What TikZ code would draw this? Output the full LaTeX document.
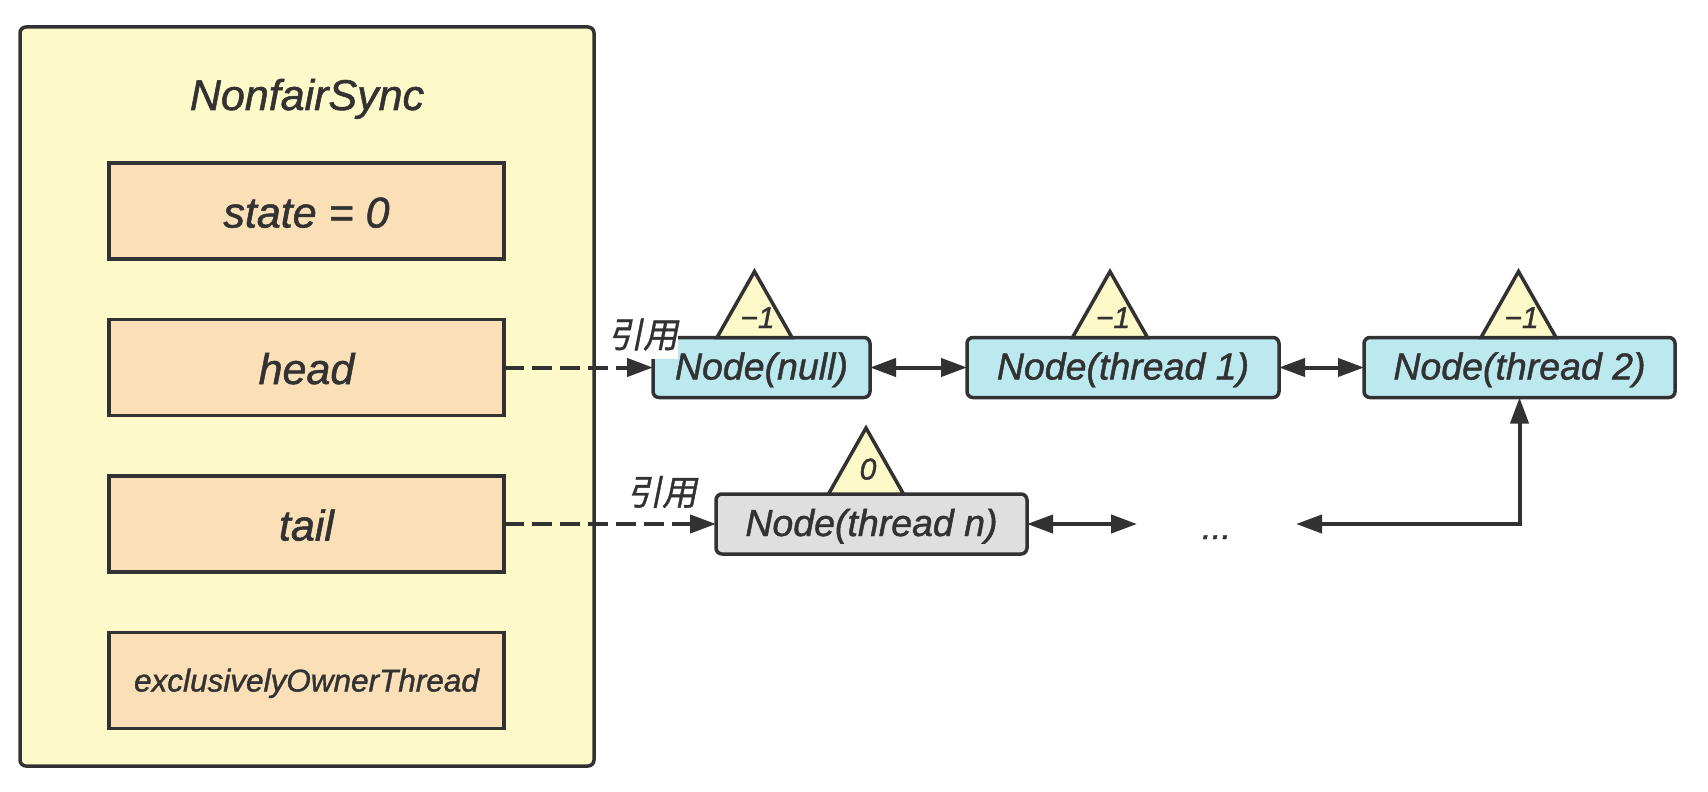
\documentclass[tikz,border=0pt]{standalone}
\usepackage{fontspec}
\setmainfont[ItalicFeatures={FakeBold=1.2}]{Liberation Sans}
\newfontfamily\cjkfont[FakeSlant=0.2, FakeBold=1]{Noto Sans CJK SC}
\usepackage{xcolor}
\usetikzlibrary{shapes.geometric, arrows.meta, positioning}
\definecolor{inkgray}{HTML}{323232}
\definecolor{syncyellow}{HTML}{FEF9C8}
\definecolor{fieldorange}{HTML}{FADFB7}
\definecolor{nodeblue}{HTML}{BCE8F0}
\definecolor{nodegray}{HTML}{DFDFDF}

\begin{document}
\begin{tikzpicture}[
  x=1pt, y=-1pt,
  every node/.style={text=inkgray, outer sep=0pt, font=\itshape},
  syncbox/.style={rectangle, rounded corners=6pt, draw=inkgray, line width=3.5pt,
                  fill=syncyellow, minimum width=574pt, minimum height=739pt},
  fieldbox/.style={rectangle, draw=inkgray, line width=3.5pt, fill=fieldorange,
                   minimum width=395pt, minimum height=96pt, inner sep=0pt,
                   text height=33pt, text depth=0pt,
                   font=\itshape\fontsize{43}{50}\selectfont},
  listbox/.style={rectangle, rounded corners=6pt, draw=inkgray, line width=3.5pt,
                  fill=nodeblue, minimum height=60pt, inner sep=0pt,
                  text height=24pt, text depth=0pt,
                  font=\itshape\fontsize{37.5}{44}\selectfont},
  countmark/.style={isosceles triangle, isosceles triangle stretches=true,
               shape border rotate=90, draw=inkgray, line width=3.5pt, fill=syncyellow,
               minimum width=75pt, minimum height=66pt, inner sep=0pt},
  marktext/.style={font=\itshape\fontsize{30}{36}\selectfont, inner sep=0pt},
  reftext/.style={fill=white, inner sep=0pt, minimum height=48pt,
                  font=\cjkfont\fontsize{35}{42}\selectfont},
  arrow/.style={{Triangle[length=26pt, width=18pt]}-{Triangle[length=26pt, width=18pt]},
                line width=4pt, inkgray},
  refarrow/.style={-{Triangle[length=26pt, width=18pt]}, line width=4pt, inkgray,
                   dash pattern=on 20pt off 8pt}
]
\useasboundingbox (0,0) rectangle (1708,792);

\node[syncbox] (sync) at (307,396.5) {};
\node[text height=28pt, text depth=0pt, font=\itshape\fontsize{43}{50}\selectfont] (syncTitle)
  at ([yshift=-69pt]sync.north) {NonfairSync};

\node[fieldbox] (state) at (306.5,211) {state = 0};
\node[fieldbox, below=60.5pt of state] (head) {head};
\node[fieldbox, below=60.5pt of head] (tail) {tail};
\node[fieldbox, below=60.5pt of tail, text height=22pt, font=\itshape\fontsize{31.5}{38}\selectfont] (owner)
  {exclusivelyOwnerThread};

\node[listbox, minimum width=217pt, right=149pt of head] (nodeNull) {Node(null)};
\node[listbox, minimum width=312pt, right=97pt of nodeNull] (nodeOne) {Node(thread 1)};
\node[listbox, minimum width=311pt, right=85pt of nodeOne] (nodeTwo) {Node(thread 2)};
\node[listbox, minimum width=311pt, right=212pt of tail, fill=nodegray] (nodeN) {Node(thread n)};
\node[right=110pt of nodeN, minimum width=159pt, inner sep=0pt, text height=30pt, text depth=0pt,
      font=\itshape\fontsize{35}{42}\selectfont] (dots) {...};

\node[countmark, above=0pt of nodeNull, xshift=-7pt,
      label={[marktext, xshift=3pt, yshift=-2pt]center:−1}] (markNull) {};
\node[countmark, above=0pt of nodeOne, xshift=-13pt,
      label={[marktext, xshift=3pt, yshift=-2pt]center:−1}] (markOne) {};
\node[countmark, above=0pt of nodeTwo, xshift=-1pt,
      label={[marktext, xshift=3pt, yshift=-2pt]center:−1}] (markTwo) {};
\node[countmark, above=0pt of nodeN, xshift=-5.5pt,
      label={[marktext, xshift=2pt, yshift=3pt]center:0}] (markN) {};

\node[reftext, left=-25pt of nodeNull, yshift=33pt] (headRef) {引用};
\node[reftext, left=19pt of nodeN, yshift=32pt] (tailRef) {引用};

\draw[refarrow] (head) -- (nodeNull);
\draw[refarrow] (tail) -- (nodeN);
\draw[arrow] (nodeNull) -- (nodeOne);
\draw[arrow] (nodeOne) -- (nodeTwo);
\draw[arrow] (nodeN) -- (dots);
\draw[arrow] (dots.east) -| (nodeTwo.south);

\end{tikzpicture}
\end{document}
